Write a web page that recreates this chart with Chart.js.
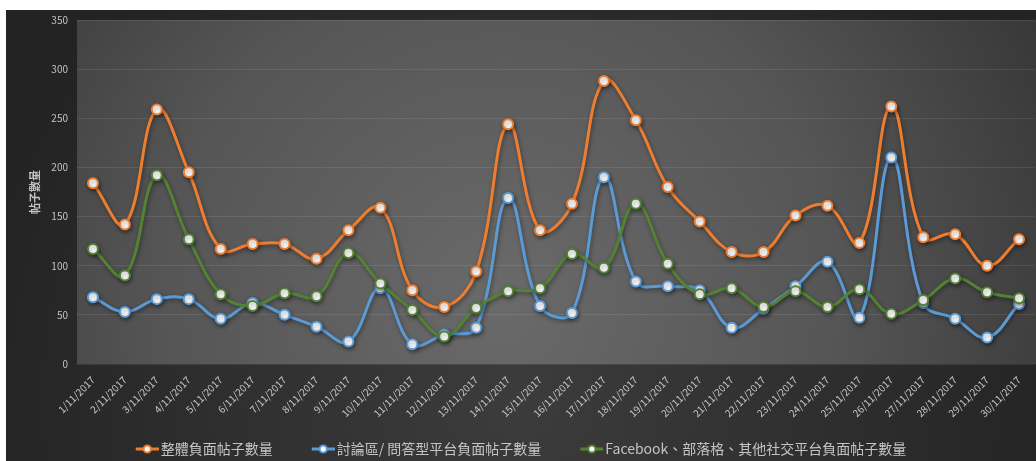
<!DOCTYPE html>
<html>
<head>
<meta charset="utf-8">
<script src="https://cdn.jsdelivr.net/npm/chart.js@4.4.1/dist/chart.umd.min.js"></script>
<style>
html,body{margin:0;padding:0;background:#ffffff;overflow:hidden;}
#wrap{width:1036px;height:461px;overflow:hidden;}
</style>
</head>
<body>
<div id="wrap"><canvas id="c" width="1042" height="461"></canvas></div>
<script>
const categories = ["1/11/2017","2/11/2017","3/11/2017","4/11/2017","5/11/2017","6/11/2017","7/11/2017","8/11/2017","9/11/2017","10/11/2017",
"11/11/2017","12/11/2017","13/11/2017","14/11/2017","15/11/2017","16/11/2017","17/11/2017","18/11/2017","19/11/2017","20/11/2017",
"21/11/2017","22/11/2017","23/11/2017","24/11/2017","25/11/2017","26/11/2017","27/11/2017","28/11/2017","29/11/2017","30/11/2017"];
const seriesNames = ["整體負面帖子數量","討論區/ 問答型平台負面帖子數量","Facebook、部落格、其他社交平台負面帖子數量"];
const overallValues = [184,142,259,195,117,122,122,107,136,159,75,58,94,244,136,163,288,248,180,145,114,114,151,161,123,262,129,132,100,127];
const forumValues = [68,53,66,66,46,62,50,38,23,77,20,30,37,169,59,52,190,84,79,75,37,56,79,104,47,210,62,46,27,61];
const socialValues = [117,90,192,127,71,59,72,69,113,82,55,28,57,74,77,112,98,163,102,71,77,58,74,58,76,51,65,87,73,67];
const yTicks = [0,50,100,150,200,250,300,350];
const axisTitle = "帖子數量";

const colors = ["#ED7D31","#5B9BD5","#548235"];
const textColor = "#c4c4c4";

function markerImage(color){
  const cv = document.createElement('canvas');
  cv.width = 36; cv.height = 12;
  const g = cv.getContext('2d');
  g.strokeStyle = color; g.lineWidth = 3;
  g.beginPath(); g.moveTo(13,6); g.lineTo(36,6); g.stroke();
  g.beginPath(); g.arc(24.5,6,3.6,0,Math.PI*2);
  g.fillStyle = '#ffffff'; g.fill();
  g.lineWidth = 2; g.strokeStyle = color; g.stroke();
  return cv;
}
const markers = colors.map(markerImage);

const bgPlugin = {
  id:'bg',
  afterLayout(chart){
    const lg = chart.legend;
    if (lg) { lg.left -= 7; lg.right -= 7; lg.top -= 17; lg.bottom -= 17; }
  },
  beforeDraw(chart){
    const ctx = chart.ctx, W = chart.width, H = chart.height, a = chart.chartArea;
    ctx.save();
    ctx.fillStyle = '#ffffff';
    ctx.fillRect(0,0,W,H);
    let g = ctx.createRadialGradient(520,400,0,520,400,560);
    g.addColorStop(0,'#3c3c3c');
    g.addColorStop(1,'#232323');
    ctx.fillStyle = g;
    ctx.fillRect(6,10,W-6,H-10);
    g = ctx.createRadialGradient(500,300,0,500,300,620);
    g.addColorStop(0,'#6a6a6a');
    g.addColorStop(0.55,'#555555');
    g.addColorStop(1,'#363636');
    ctx.fillStyle = g;
    ctx.fillRect(a.left,a.top,W-a.left,a.bottom-a.top);
    ctx.restore();
  }
};
const shadowPlugin = {
  id:'shadow',
  beforeDatasetDraw(chart){
    const ctx = chart.ctx;
    ctx.save();
    ctx.shadowColor = 'rgba(0,0,0,0.4)';
    ctx.shadowBlur = 4;
    ctx.shadowOffsetX = 1;
    ctx.shadowOffsetY = 2;
  },
  afterDatasetDraw(chart){
    chart.ctx.restore();
  }
};

const seriesValues = [overallValues, forumValues, socialValues];
const datasets = seriesValues.map((vals,i)=>({
  label: seriesNames[i],
  data: vals,
  borderColor: colors[i],
  backgroundColor: '#ffffff',
  borderWidth: 3,
  tension: 0.4,
  pointRadius: 5,
  pointBorderWidth: 2,
  pointBackgroundColor: '#ffffff',
  pointBorderColor: colors[i],
  pointHoverRadius: 5,
  fill: false
})).reverse();

Chart.defaults.font.family = '"Noto Sans CJK TC","Noto Sans",sans-serif';

new Chart(document.getElementById('c'), {
  type:'line',
  data:{ labels: categories, datasets },
  plugins:[bgPlugin, shadowPlugin],
  options:{
    responsive:false,
    animation:false,
    events:[],
    layout:{ padding:{ left:6, top:20, right:0, bottom:-22 } },
    scales:{
      x:{
        offset:true,
        grid:{ display:false },
        border:{ display:false },
        ticks:{ color:textColor, font:{ size:10 }, minRotation:45, maxRotation:45, autoSkip:false, padding:2 },
        afterFit(s){ s.height = 64; }
      },
      y:{
        min:0, max:350,
        afterBuildTicks(s){ s.ticks = yTicks.map(v=>({value:v})); },
        grid:{ color:'rgba(255,255,255,0.09)', drawTicks:false },
        border:{ display:false },
        ticks:{ color:textColor, font:{ size:10 }, padding:9 },
        title:{ display:true, text:axisTitle, color:textColor, font:{ size:11, weight:'bold' }, padding:{ top:22, bottom:0 } },
        afterFit(s){ s.width = 71; }
      }
    },
    plugins:{
      tooltip:{ enabled:false },
      legend:{
        position:'bottom',
        reverse:true,
        labels:{
          color:textColor,
          font:{ size:14 },
          usePointStyle:true,
          pointStyleWidth:26,
          padding:31,
          generateLabels(chart){
            const items = Chart.defaults.plugins.legend.labels.generateLabels(chart);
            items.forEach(it=>{
              const idx = seriesNames.indexOf(it.text);
              it.pointStyle = markers[idx];
              it.fontColor = textColor;
            });
            return items;
          }
        }
      }
    }
  }
});
</script>
</body>
</html>
